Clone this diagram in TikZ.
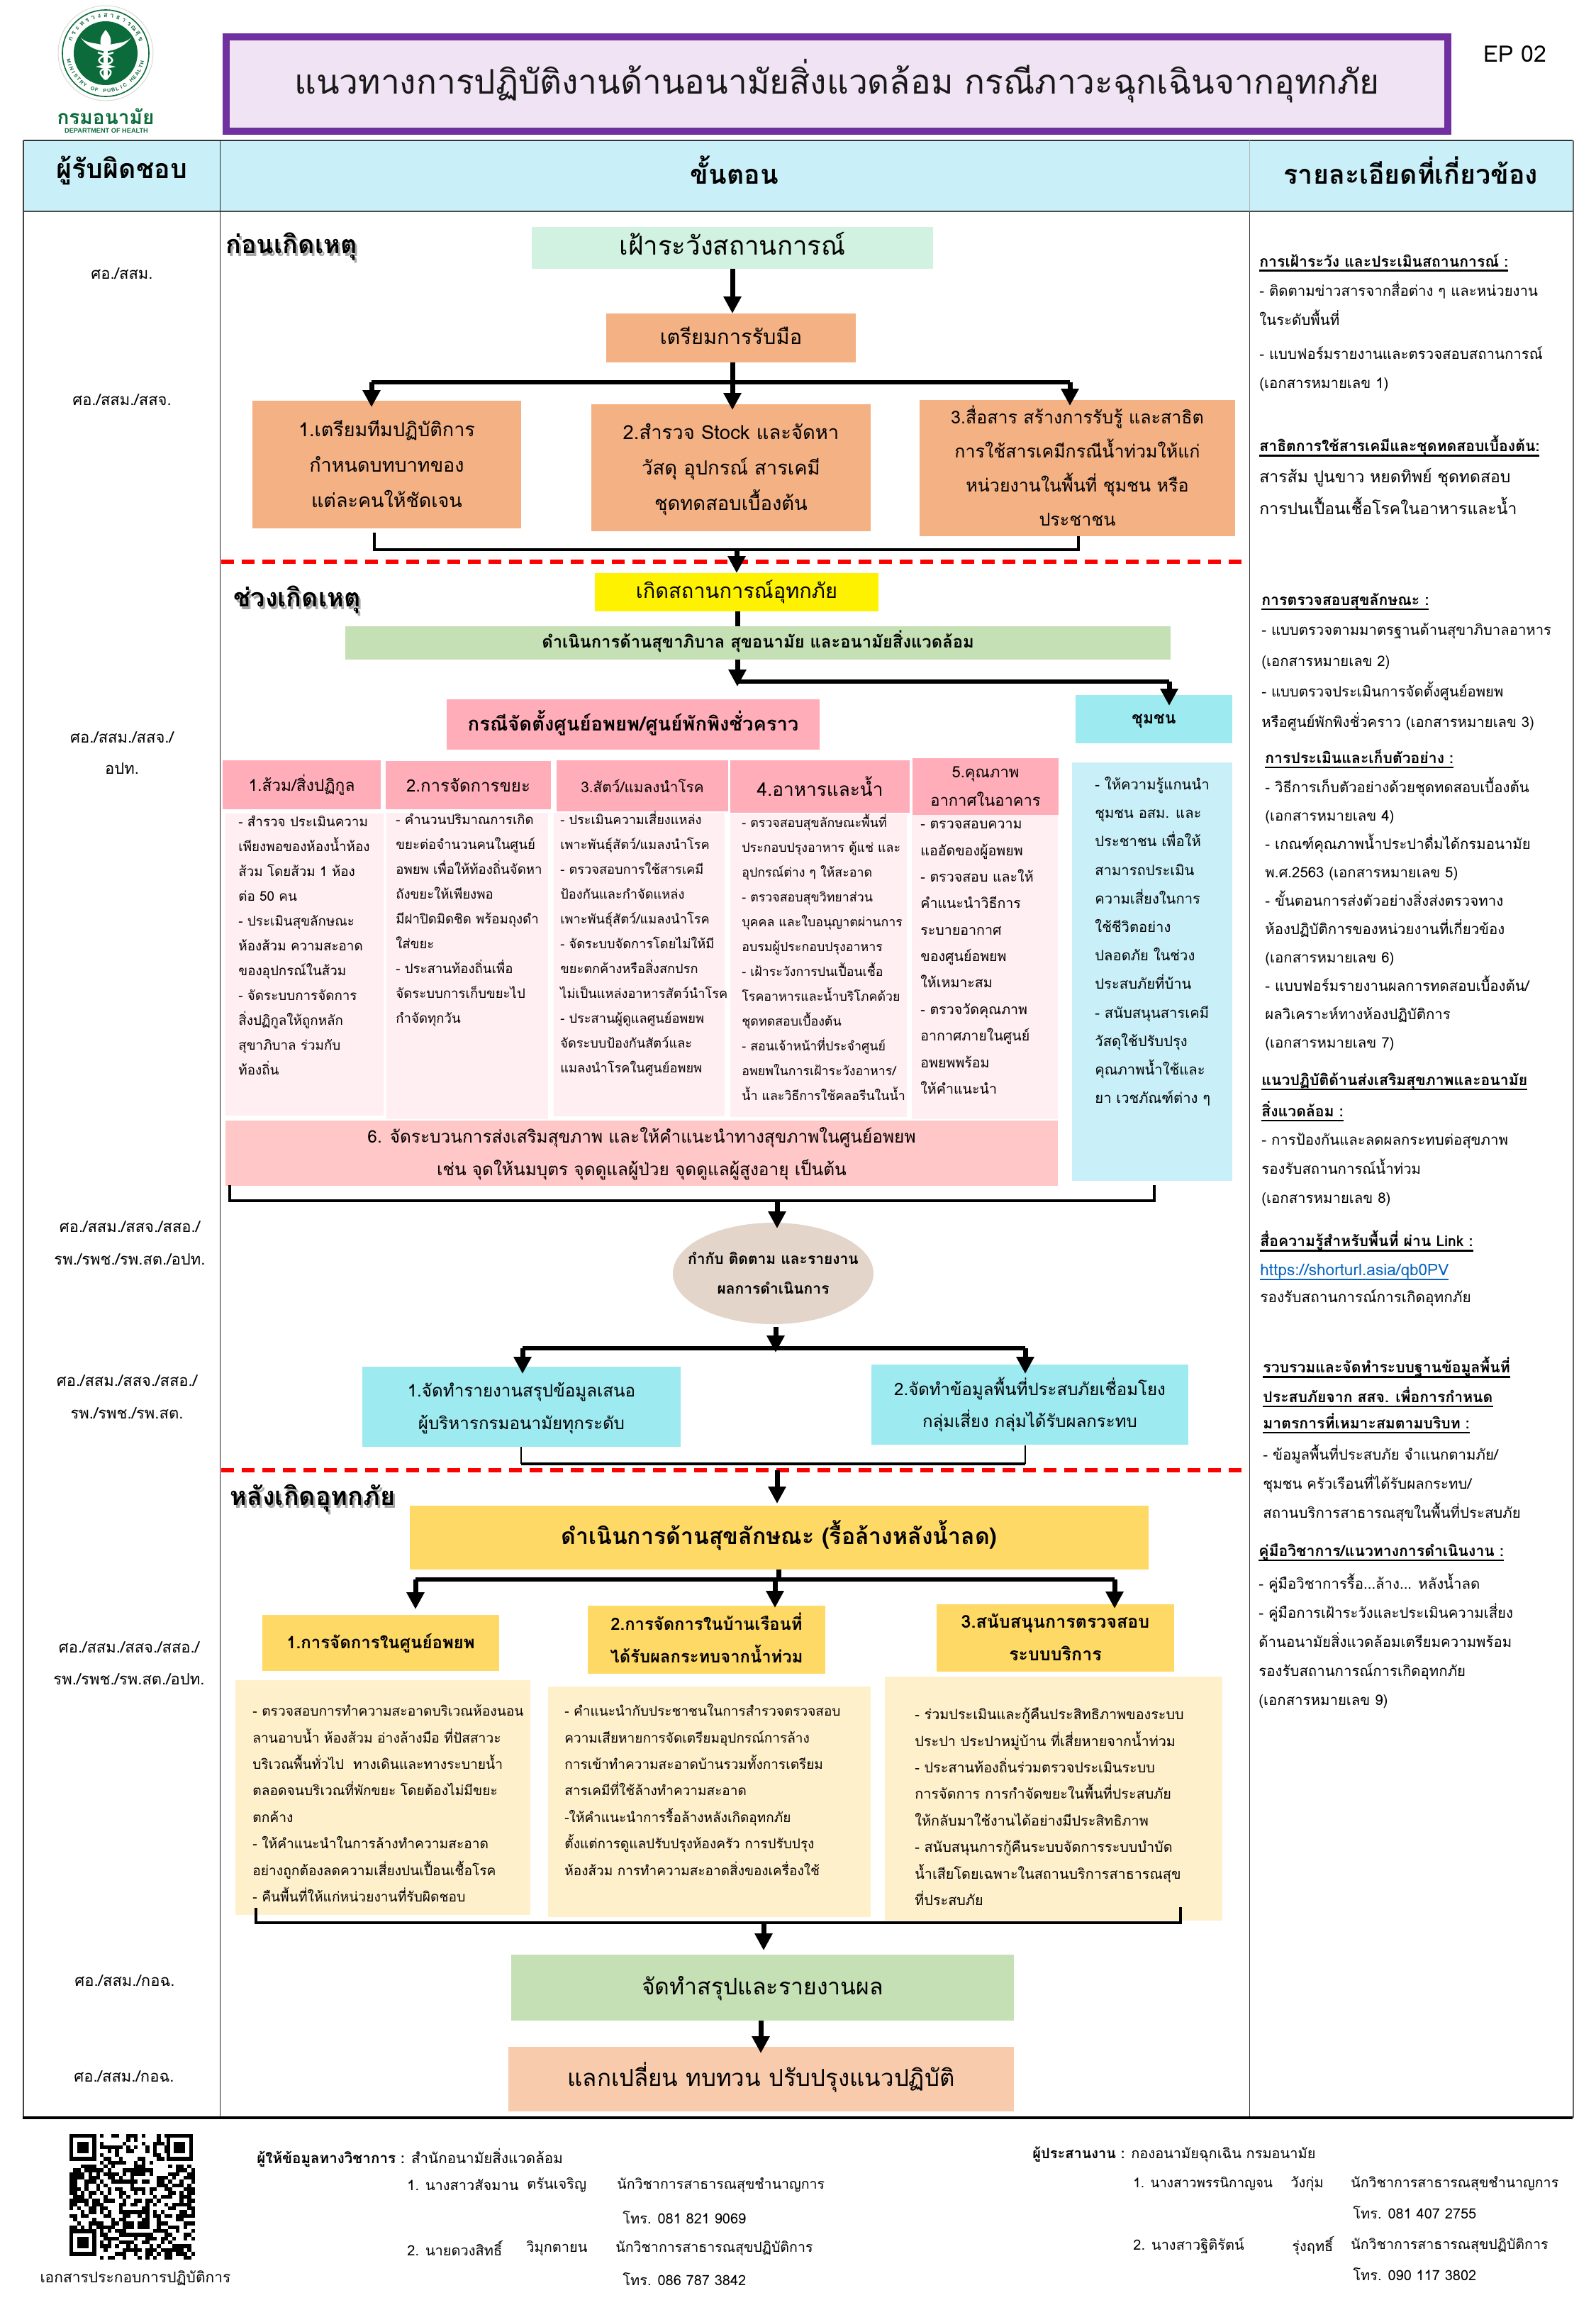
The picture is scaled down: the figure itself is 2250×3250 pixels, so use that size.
\documentclass[tikz,border=0pt]{standalone}
\usepackage{fontspec}
\usetikzlibrary{arrows.meta,calc,shapes.geometric}
\setmainfont[Script=Thai]{Loma}
\newfontfamily\latinsans{Liberation Sans}
\definecolor{hdr}{HTML}{C9F0F8}
\definecolor{ttl}{HTML}{F0E3F3}
\definecolor{pur}{HTML}{7030A0}
\definecolor{mint}{HTML}{D1F2E0}
\definecolor{org}{HTML}{F4B183}
\definecolor{grn}{HTML}{C5E0B4}
\definecolor{pnk}{HTML}{FFADB9}
\definecolor{pnkl}{HTML}{FFEEF2}
\definecolor{pnkm}{HTML}{FFC7C7}
\definecolor{cyn}{HTML}{9DEAF0}
\definecolor{bge}{HTML}{E3D5CA}
\definecolor{gld}{HTML}{FFD966}
\definecolor{gldl}{HTML}{FFF0CC}
\definecolor{pch}{HTML}{F8CBAD}
\definecolor{lnk}{HTML}{0563C1}
\definecolor{mop}{HTML}{0B6B3A}
\newcommand\fs[2]{\fontsize{#1}{#2}\selectfont}
\newcommand\myul[1]{\setbox0=\hbox{#1}\rlap{\vrule height -2.2pt depth 3.3pt width \wd0}\box0}
\newcommand\mybox[7]{\node[#6,inner sep=0pt,outer sep=0pt,align=center,minimum width={(#4-#2)*0.5pt},minimum height={(#5-#3)*0.5pt}] (#1) at ({(#2+#4)/2},{(#3+#5)/2}) {#7};}
\tikzset{
 stem/.style={line width=3.5pt},
 flow/.style={stem,-{Triangle[width=12pt,length=12pt]}},
 hbar/.style={line width=2.6pt},
 bracket/.style={line width=2.2pt,line join=miter},
 reddash/.style={line width=3pt,red,dash pattern=on 9pt off 5.5pt},
 tline/.style={inner sep=0pt,align=left,anchor=north west},
 bodyt/.style={tline,font=\fs{9.4}{17.5}},
 lowt/.style={tline,font=\fs{9.6}{18.7}},
 rhead/.style={inner sep=0pt,anchor=west,font=\fs{10.6}{21}\bfseries},
 rbody/.style={tline,font=\fs{10.2}{20.5}},
 lab/.style={inner sep=0pt,font=\fs{11}{14}},
 foot/.style={inner sep=0pt,anchor=west,font=\fs{10}{13}},
 sect/.style={inner sep=0pt,font=\fs{18}{22}\bfseries},
 colh/.style={inner sep=0pt,font=\fs{18.8}{24}\bfseries},
 ringt/.style={inner sep=0pt,text=mop},
}
\begin{document}
\begin{tikzpicture}[x=0.5pt,y=-0.5pt]
\useasboundingbox (0,0) rectangle (2250,3250);
% ---------- logo
\fill[white,draw=black!15,line width=0.5pt] (149,75) circle (33.5pt);
\draw[mop,line width=0.8pt] (149,75) circle (30.5pt);
\fill[mop] (149,75) circle (22.5pt);
\fill[white] (146,56) rectangle (152,112);
\fill[white] (149,42) .. controls (157,52) and (158,58) .. (155,66) -- (143,66) .. controls (140,58) and (141,52) .. (149,42) -- cycle;
\fill[white] (146,72) .. controls (130,70) and (120,62) .. (114,53) .. controls (122,62) and (136,60) .. (146,64) -- cycle;
\fill[white] (152,72) .. controls (168,70) and (178,62) .. (185,53) .. controls (176,62) and (162,60) .. (152,64) -- cycle;
\draw[white,line width=1.2pt] (138,74) .. controls (165,82) and (165,88) .. (140,94) .. controls (160,98) and (160,102) .. (149,112);
\draw[white,line width=1.2pt] (160,74) .. controls (133,82) and (133,88) .. (158,94) .. controls (138,98) and (138,102) .. (149,112);
\foreach \c [count=\n] in {ก,ร,ะ,ท,ร,ว,ง,ส,า,ธ,า,ร,ณ,สุ,ข}{
  \pgfmathsetmacro\a{158-(\n-1)*9.7}
  \node[ringt,font=\fs{4.6}{5}\bfseries,rotate=\a-90] (lgt\n) at ({149+53*cos(\a)},{75-53*sin(\a)}) {\c};
}
\foreach \c [count=\n] in {M,I,N,I,S,T,R,Y,{},O,F,{},P,U,B,L,I,C,{},H,E,A,L,T,H}{
  \pgfmathsetmacro\a{192+(\n-1)*6.4}
  \node[ringt,font=\latinsans\fs{3.6}{5}\bfseries,rotate=\a+90] (lgb\n) at ({149+53*cos(\a)},{75-53*sin(\a)}) {\c};
}
\node[inner sep=0pt,text=mop,font=\fs{14}{16}\bfseries] (dept) at (149,164) {กรมอนามัย};
\node[inner sep=0pt,text=mop,font=\latinsans\fs{4.6}{6}\bfseries] (depten) at (150,184) {DEPARTMENT OF HEALTH};
% ---------- title
\mybox{title}{319}{52}{2042}{185}{draw=pur,fill=ttl,line width=5pt,font=\fs{23.9}{36},text=black!90}{\strut แนวทางการปฏิบัติงานด้านอนามัยสิ่งแวดล้อม กรณีภาวะฉุกเฉินจากอุทกภัย}
\node[inner sep=0pt,font=\fs{16}{20}] (ep) at (2137,76) {EP 02};
% ---------- table
\fill[hdr] (33,198) rectangle (2218,298);
\draw[black!80,line width=0.8pt] (33,198) -- (2218,198);
\draw[black!70,line width=1pt] (33,298) -- (2218,298);
\draw[black!75,line width=0.7pt] (33,198) -- (33,2986);
\draw[black!85,line width=0.5pt] (310,198) -- (310,2986);
\draw[black!30,line width=0.5pt] (1762,198) -- (1762,298);
\draw[black!80,line width=0.5pt] (1762,298) -- (1762,2986);
\draw[black!60,line width=0.8pt] (2219,198) -- (2219,2986);
\draw[black,line width=2pt] (32,2986) -- (2218,2986);
\node[colh] (h1) at (172,240) {ผู้รับผิดชอบ};
\node[colh] (h2) at (1036,240) {ขั้นตอน};
\node[colh] (h3) at (1990,240) {รายละเอียดที่เกี่ยวข้อง};
% left labels
\node[lab] (l1) at (172,386) {ศอ./สสม.};
\node[lab] (l2) at (172,564) {ศอ./สสม./สสจ.};
\node[lab] (l3) at (172,1040) {ศอ./สสม./สสจ./};
\node[lab] (l3b) at (172,1084) {อปท.};
\node[lab] (l4) at (183,1730) {ศอ./สสม./สสจ./สสอ./};
\node[lab] (l4b) at (183,1776) {รพ./รพช./รพ.สต./อปท.};
\node[lab] (l5) at (179,1947) {ศอ./สสม./สสจ./สสอ./};
\node[lab] (l5b) at (179,1993) {รพ./รพช./รพ.สต.};
\node[lab] (l6) at (182,2323) {ศอ./สสม./สสจ./สสอ./};
\node[lab] (l6b) at (182,2368) {รพ./รพช./รพ.สต./อปท.};
\node[lab] (l7) at (176,2793) {ศอ./สสม./กอฉ.};
\node[lab] (l8) at (175,2928) {ศอ./สสม./กอฉ.};
% section titles
\node[sect,text=black!35] (s1s) at (414,351) {ก่อนเกิดเหตุ};
\node[sect] (s1) at (411,347) {ก่อนเกิดเหตุ};
\node[sect,text=black!35] (s2s) at (422,849) {ช่วงเกิดเหตุ};
\node[sect] (s2) at (419,845) {ช่วงเกิดเหตุ};
\node[sect,text=black!35] (s3s) at (444,2116) {หลังเกิดอุทกภัย};
\node[sect] (s3) at (441,2112) {หลังเกิดอุทกภัย};
% ---------- before
\mybox{watch}{750}{320}{1316}{379}{fill=mint,font=\fs{18.3}{24}}{\strut เฝ้าระวังสถานการณ์}
\mybox{prep}{855}{442}{1207}{511}{fill=org,font=\fs{14.5}{22}}{\raisebox{1.5pt}{\strut เตรียมการรับมือ}}
\mybox{p1}{356}{565}{735}{745}{fill=org,font=\fs{13.5}{25}}{\raisebox{1pt}{\strut 1.เตรียมทีมปฏิบัติการ}\\\raisebox{1pt}{\strut กำหนดบทบาทของ}\\\raisebox{1pt}{\strut แต่ละคนให้ชัดเจน}}
\mybox{p2}{834}{570}{1228}{749}{fill=org,font=\fs{13.7}{25}}{\strut 2.สำรวจ Stock และจัดหา\\\strut วัสดุ อุปกรณ์ สารเคมี\\\strut ชุดทดสอบเบื้องต้น}
\mybox{p3}{1297}{566}{1742}{754}{fill=org,font=\fs{12.5}{24}}{\strut 3.สื่อสาร สร้างการรับรู้ และสาธิต\\\strut การใช้สารเคมีกรณีน้ำท่วมให้แก่\\\strut หน่วยงานในพื้นที่ ชุมชน หรือ\\\strut ประชาชน}
\coordinate (j1) at (1033,539);
\coordinate (j1l) at (524,539);
\coordinate (j1r) at (1509,539);
\coordinate (a1) at (524,574);
\coordinate (a2) at (1033,578);
\coordinate (a3) at (1509,572);
\draw[flow] (watch.south -| j1) -- (j1 |- prep.north);
\draw[stem] (j1 |- prep.south) -- (j1);
\draw[hbar] (j1l) -- (j1r);
\draw[flow] (j1l) -- (a1);
\draw[flow] (j1) -- (a2);
\draw[flow] (j1r) -- (a3);
\coordinate (b1a) at (528,751);
\coordinate (b1b) at (528,775);
\coordinate (b1c) at (1521,775);
\coordinate (b1d) at (1521,756);
\coordinate (b1m) at (1039,775);
\draw[bracket] (b1a) -- (b1b) -- (b1c) -- (b1d);
\draw[reddash] (312,792) -- (1762,792);
% ---------- during
\mybox{event}{839}{808}{1239}{862}{fill=yellow,font=\fs{14.5}{18}}{เกิดสถานการณ์อุทกภัย}
\mybox{ops}{487}{883}{1651}{930}{fill=grn,font=\fs{11.9}{18}\bfseries}{\strut ดำเนินการด้านสุขาภิบาล สุขอนามัย และอนามัยสิ่งแวดล้อม}
\draw[flow] (b1m) -- (b1m |- event.north);
\coordinate (j2) at (1040,961);
\coordinate (j2r) at (1649,961);
\coordinate (a4) at (1040,968);
\coordinate (a5) at (1649,995);
\mybox{shelter}{630}{986}{1156}{1057}{fill=pnk,font=\fs{13.7}{20}\bfseries}{\strut กรณีจัดตั้งศูนย์อพยพ/ศูนย์พักพิงชั่วคราว}
\mybox{comm}{1517}{980}{1738}{1048}{fill=cyn,font=\fs{11.5}{17}\bfseries}{\strut ชุมชน}
\draw[stem] (event.south -| j2) -- (j2 |- ops.north);
\draw[flow] (j2 |- ops.south) -- (a4);
\draw[hbar] (j2) -- (j2r);
\draw[flow] (j2r) -- (a5);
% five headers
\mybox{c1}{314}{1072}{537}{1141}{fill=pnk,font=\fs{11.4}{16}}{1.ส้วม/สิ่งปฏิกูล}
\mybox{c2}{544}{1073}{777}{1141}{fill=pnk,font=\fs{12}{16}}{2.การจัดการขยะ}
\mybox{c3}{785}{1072}{1027}{1144}{fill=pnk,font=\fs{10.4}{16}}{3.สัตว์/แมลงนำโรค}
\mybox{c4}{1030}{1072}{1283}{1146}{fill=pnk,font=\fs{13.1}{18}}{4.อาหารและน้ำ}
\mybox{c5}{1287}{1070}{1493}{1147}{fill=pnk,font=\fs{11}{20}}{\strut 5.คุณภาพ\\\strut อากาศในอาคาร}
\mybox{d1}{318}{1147}{541}{1573}{fill=pnkl}{}
\mybox{d2}{545}{1146}{773}{1578}{fill=pnkl}{}
\mybox{d3}{781}{1146}{1022}{1574}{fill=pnkl}{}
\mybox{d4}{1030}{1148}{1279}{1575}{fill=pnkl}{}
\mybox{d5}{1286}{1149}{1492}{1578}{fill=pnkl}{}
\mybox{dc}{1512}{1075}{1738}{1665}{fill=hdr}{}
\node[bodyt] (d1t) at (336,1141) {\strut - สำรวจ ประเมินความ\\เพียงพอของห้องน้ำห้อง\\ส้วม โดยส้วม 1 ห้อง\\ต่อ 50 คน\\- ประเมินสุขลักษณะ\\ห้องส้วม ความสะอาด\\ของอุปกรณ์ในส้วม\\- จัดระบบการจัดการ\\สิ่งปฏิกูลให้ถูกหลัก\\สุขาภิบาล ร่วมกับ\\ท้องถิ่น};
\node[bodyt,font=\fs{9.3}{17.5}] (d2t) at (558,1138) {\strut - คำนวนปริมาณการเกิด\\ขยะต่อจำนวนคนในศูนย์\\อพยพ เพื่อให้ท้องถิ่นจัดหา\\ถังขยะให้เพียงพอ\\มีฝาปิดมิดชิด พร้อมถุงดำ\\ใส่ขยะ\\- ประสานท้องถิ่นเพื่อ\\จัดระบบการเก็บขยะไป\\กำจัดทุกวัน};
\node[bodyt,font=\fs{9.1}{17.5}] (d3t) at (790,1138) {\strut - ประเมินความเสี่ยงแหล่ง\\เพาะพันธุ์สัตว์/แมลงนำโรค\\- ตรวจสอบการใช้สารเคมี\\ป้องกันและกำจัดแหล่ง\\เพาะพันธุ์สัตว์/แมลงนำโรค\\- จัดระบบจัดการโดยไม่ให้มี\\ขยะตกค้างหรือสิ่งสกปรก\\ไม่เป็นแหล่งอาหารสัตว์นำโรค\\- ประสานผู้ดูแลศูนย์อพยพ\\จัดระบบป้องกันสัตว์และ\\แมลงนำโรคในศูนย์อพยพ};
\node[bodyt,font=\fs{8.9}{17.5}] (d4t) at (1046,1142) {\strut - ตรวจสอบสุขลักษณะพื้นที่\\ประกอบปรุงอาหาร ตู้แช่ และ\\อุปกรณ์ต่าง ๆ ให้สะอาด\\- ตรวจสอบสุขวิทยาส่วน\\บุคคล และใบอนุญาตผ่านการ\\อบรมผู้ประกอบปรุงอาหาร\\- เฝ้าระวังการปนเปื้อนเชื้อ\\โรคอาหารและน้ำบริโภคด้วย\\ชุดทดสอบเบื้องต้น\\- สอนเจ้าหน้าที่ประจำศูนย์\\อพยพในการเฝ้าระวังอาหาร/\\น้ำ และวิธีการใช้คลอรีนในน้ำ};
\node[bodyt,font=\fs{9.8}{18.7}] (d5t) at (1298,1142) {\strut - ตรวจสอบความ\\แออัดของผู้อพยพ\\- ตรวจสอบ และให้\\คำแนะนำวิธีการ\\ระบายอากาศ\\ของศูนย์อพยพ\\ให้เหมาะสม\\- ตรวจวัดคุณภาพ\\อากาศภายในศูนย์\\อพยพพร้อม\\ให้คำแนะนำ};
\node[bodyt,font=\fs{10.1}{20.1}] (dct) at (1544,1085) {\strut - ให้ความรู้แกนนำ\\ชุมชน อสม. และ\\ประชาชน เพื่อให้\\สามารถประเมิน\\ความเสี่ยงในการ\\ใช้ชีวิตอย่าง\\ปลอดภัย ในช่วง\\ประสบภัยที่บ้าน\\- สนับสนุนสารเคมี\\วัสดุใช้ปรับปรุง\\คุณภาพน้ำใช้และ\\ยา เวชภัณฑ์ต่าง ๆ};
\mybox{six}{318}{1580}{1492}{1671}{fill=pnkm,font=\fs{12.2}{23}}{\strut 6. จัดระบวนการส่งเสริมสุขภาพ และให้คำแนะนำทางสุขภาพในศูนย์อพยพ\\\strut เช่น จุดให้นมบุตร จุดดูแลผู้ป่วย จุดดูแลผู้สูงอายุ เป็นต้น}
\coordinate (b2a) at (324,1671);
\coordinate (b2b) at (324,1693);
\coordinate (b2c) at (1628,1693);
\coordinate (b2d) at (1628,1671);
\coordinate (b2m) at (1096,1693);
\draw[bracket] (b2a) -- (b2b) -- (b2c) -- (b2d);
\node[ellipse,fill=bge,inner sep=0pt,minimum width=141.5pt,minimum height=71.5pt] (mon) at (1090.5,1795.5) {};
\node[inner sep=0pt,align=center,font=\fs{10.5}{21}\bfseries] (mont) at (mon.center) {\strut กำกับ ติดตาม และรายงาน\\\strut ผลการดำเนินการ};
\coordinate (a6) at (1096,1732);
\draw[flow] (b2m) -- (a6);
\coordinate (j3) at (1094,1901);
\coordinate (j3l) at (737,1901);
\coordinate (j3r) at (1446,1901);
\coordinate (a7) at (737,1937);
\coordinate (a8) at (1446,1937);
\coordinate (j3s) at (1094,1871);
\coordinate (j3e) at (1094,1907);
\mybox{rep1}{511}{1927}{960}{2040}{fill=cyn,font=\fs{12.1}{23}}{\strut 1.จัดทำรายงานสรุปข้อมูลเสนอ\\\strut ผู้บริหารกรมอนามัยทุกระดับ}
\mybox{rep2}{1229}{1924}{1676}{2037}{fill=cyn,font=\fs{12}{22.5}}{\strut 2.จัดทำข้อมูลพื้นที่ประสบภัยเชื่อมโยง\\\strut กลุ่มเสี่ยง กลุ่มได้รับผลกระทบ}
\draw[flow] (j3s) -- (j3e);
\draw[hbar] (j3l) -- (j3r);
\draw[flow] (j3l) -- (a7);
\draw[flow] (j3r) -- (a8);
\coordinate (b3a) at (735,2040);
\coordinate (b3b) at (735,2064);
\coordinate (b3c) at (1446,2064);
\coordinate (b3d) at (1446,2038);
\draw[line width=1pt] (b3a) -- (b3b);
\draw[line width=1pt] (b3d) -- (b3c);
\draw[line width=2.4pt] (b3b) -- (b3c);
\draw[reddash] (312,2073) -- (1762,2073);
% ---------- after
\mybox{clean}{578}{2123}{1620}{2213}{fill=gld,font=\fs{16}{24}\bfseries}{\strut ดำเนินการด้านสุขลักษณะ (รื้อล้างหลังน้ำลด)}
\coordinate (a9s) at (1096,2073);
\coordinate (a9) at (1096,2120);
\draw[flow] (a9s) -- (a9);
\coordinate (j4) at (1098,2227);
\coordinate (j4l) at (586,2227);
\coordinate (j4m) at (1093,2227);
\coordinate (j4r) at (1572,2227);
\mybox{y1}{370}{2277}{704}{2356}{fill=gld,font=\fs{12}{16}\bfseries}{1.การจัดการในศูนย์อพยพ}
\mybox{y2}{829}{2264}{1164}{2360}{fill=gld,font=\fs{11.9}{23}\bfseries}{\strut 2.การจัดการในบ้านเรือนที่\\\strut ได้รับผลกระทบจากน้ำท่วม}
\mybox{y3}{1321}{2262}{1656}{2357}{fill=gld,font=\fs{12.5}{23}\bfseries}{\strut 3.สนับสนุนการตรวจสอบ\\\strut ระบบบริการ}
\coordinate (a10) at (586,2269);
\coordinate (a11) at (1093,2267);
\coordinate (a12) at (1572,2268);
\draw[stem] (clean.south -| j4) -- (j4);
\draw[hbar] (j4l) -- (j4r);
\draw[flow] (j4l) -- (a10);
\draw[flow] (j4m) -- (a11);
\draw[flow] (j4r) -- (a12);
\mybox{e1}{332}{2369}{748}{2700}{fill=gldl}{}
\mybox{e2}{773}{2378}{1228}{2703}{fill=gldl}{}
\mybox{e3}{1248}{2364}{1724}{2708}{fill=gldl}{}
\node[lowt] (e1t) at (356,2393) {\strut - ตรวจสอบการทำความสะอาดบริเวณห้องนอน\\ลานอาบน้ำ ห้องส้วม อ่างล้างมือ ที่ปัสสาวะ\\บริเวณพื้นทั่วไป~~ทางเดินและทางระบายน้ำ\\ตลอดจนบริเวณที่พักขยะ โดยต้องไม่มีขยะ\\ตกค้าง\\- ให้คำแนะนำในการล้างทำความสะอาด\\อย่างถูกต้องลดความเสี่ยงปนเปื้อนเชื้อโรค\\- คืนพื้นที่ให้แก่หน่วยงานที่รับผิดชอบ};
\node[lowt,font=\fs{9.5}{18.7}] (e2t) at (796,2393) {\strut - คำแนะนำกับประชาชนในการสำรวจตรวจสอบ\\ความเสียหายการจัดเตรียมอุปกรณ์การล้าง\\การเข้าทำความสะอาดบ้านรวมทั้งการเตรียม\\สารเคมีที่ใช้ล้างทำความสะอาด\\-ให้คำแนะนำการรื้อล้างหลังเกิดอุทกภัย\\ตั้งแต่การดูแลปรับปรุงห้องครัว การปรับปรุง\\ห้องส้วม การทำความสะอาดสิ่งของเครื่องใช้};
\node[lowt,font=\fs{9.9}{18.7}] (e3t) at (1290,2398) {\strut - ร่วมประเมินและกู้คืนประสิทธิภาพของระบบ\\ประปา ประปาหมู่บ้าน ที่เสี่ยหายจากน้ำท่วม\\- ประสานท้องถิ่นร่วมตรวจประเมินระบบ\\การจัดการ การกำจัดขยะในพื้นที่ประสบภัย\\ให้กลับมาใช้งานได้อย่างมีประสิทธิภาพ\\- สนับสนุนการกู้คืนระบบจัดการระบบบำบัด\\น้ำเสียโดยเฉพาะในสถานบริการสาธารณสุข\\ที่ประสบภัย};
\coordinate (b4a) at (361,2690);
\coordinate (b4b) at (361,2711);
\coordinate (b4c) at (1665,2711);
\coordinate (b4d) at (1665,2689);
\coordinate (b4m) at (1077,2711);
\draw[bracket] (b4a) -- (b4b) -- (b4c) -- (b4d);
\mybox{sum}{721}{2756}{1430}{2849}{fill=grn,font=\fs{16}{24}}{\strut จัดทำสรุปและรายงานผล}
\mybox{share}{717}{2886}{1430}{2977}{fill=pch,font=\fs{16.5}{25}}{\strut แลกเปลี่ยน ทบทวน ปรับปรุงแนวปฏิบัติ}
\coordinate (a13) at (1077,2750);
\coordinate (a14s) at (1073,2849);
\coordinate (a14) at (1073,2895);
\draw[flow] (b4m) -- (a13);
\draw[flow] (a14s) -- (a14);
% ---------- right column
\node[rhead] (r1) at (1776,370) {\myul{การเฝ้าระวัง และประเมินสถานการณ์ :}};
\node[rbody] (r1t) at (1776,388) {\strut - ติดตามข่าวสารจากสื่อต่าง ๆ และหน่วยงาน\\ในระดับพื้นที่};
\node[rbody] (r1u) at (1776,477) {\strut - แบบฟอร์มรายงานและตรวจสอบสถานการณ์\\(เอกสารหมายเลข 1)};
\node[rhead] (r2) at (1776,629) {\myul{สาธิตการใช้สารเคมีและชุดทดสอบเบื้องต้น:}};
\node[rbody,font=\fs{11.5}{22.5}] (r2t) at (1776,649) {\strut สารส้ม ปูนขาว หยดทิพย์ ชุดทดสอบ\\การปนเปื้อนเชื้อโรคในอาหารและน้ำ};
\node[rhead] (r3) at (1779,848) {\myul{การตรวจสอบสุขลักษณะ :}};
\node[rbody,font=\fs{10.15}{21.7}] (r3t) at (1779,865) {\strut - แบบตรวจตามมาตรฐานด้านสุขาภิบาลอาหาร\\(เอกสารหมายเลข 2)\\- แบบตรวจประเมินการจัดตั้งศูนย์อพยพ\\หรือศูนย์พักพิงชั่วคราว (เอกสารหมายเลข 3)};
\node[rhead] (r4) at (1784,1070) {\myul{การประเมินและเก็บตัวอย่าง :}};
\node[rbody,font=\fs{10.2}{20}] (r4t) at (1784,1089) {\strut - วิธีการเก็บตัวอย่างด้วยชุดทดสอบเบื้องต้น\\(เอกสารหมายเลข 4)\\- เกณฑ์คุณภาพน้ำประปาดื่มได้กรมอนามัย\\พ.ศ.2563 (เอกสารหมายเลข 5)\\- ขั้นตอนการส่งตัวอย่างสิ่งส่งตรวจทาง\\ห้องปฏิบัติการของหน่วยงานที่เกี่ยวข้อง\\(เอกสารหมายเลข 6)\\- แบบฟอร์มรายงานผลการทดสอบเบื้องต้น/\\ผลวิเคราะห์ทางห้องปฏิบัติการ\\(เอกสารหมายเลข 7)};
\node[rhead] (r5) at (1779,1525) {\myul{แนวปฏิบัติด้านส่งเสริมสุขภาพและอนามัย}};
\node[rhead] (r5b) at (1779,1567) {\myul{สิ่งแวดล้อม :}};
\node[rbody] (r5t) at (1779,1585) {\strut - การป้องกันและลดผลกระทบต่อสุขภาพ\\รองรับสถานการณ์น้ำท่วม\\(เอกสารหมายเลข 8)};
\node[rhead] (r6) at (1777,1750) {\myul{สื่อความรู้สำหรับพื้นที่ ผ่าน Link :}};
\node[inner sep=0pt,anchor=west,text=lnk,font=\fs{11.3}{14}] (r6l) at (1777,1794) {\myul{https://shorturl.asia/qb0PV}};
\node[inner sep=0pt,anchor=west,font=\fs{10.4}{14}] (r6t) at (1777,1830) {รองรับสถานการณ์การเกิดอุทกภัย};
\node[rhead] (r7) at (1781,1928) {\myul{รวบรวมและจัดทำระบบฐานข้อมูลพื้นที่}};
\node[rhead] (r7b) at (1781,1970) {\myul{ประสบภัยจาก สสจ. เพื่อการกำหนด}};
\node[rhead] (r7c) at (1781,2007) {\myul{มาตรการที่เหมาะสมตามบริบท :}};
\node[rbody] (r7t) at (1781,2029) {\strut - ข้อมูลพื้นที่ประสบภัย จำแนกตามภัย/\\ชุมชน ครัวเรือนที่ได้รับผลกระทบ/\\สถานบริการสาธารณสุขในพื้นที่ประสบภัย};
\node[rhead] (r8) at (1775,2189) {\myul{คู่มือวิชาการ/แนวทางการดำเนินงาน :}};
\node[rbody] (r8t) at (1775,2211) {\strut - คู่มือวิชาการรื้อ...ล้าง... หลังน้ำลด\\- คู่มือการเฝ้าระวังและประเมินความเสี่ยง\\ด้านอนามัยสิ่งแวดล้อมเตรียมความพร้อม\\รองรับสถานการณ์การเกิดอุทกภัย\\(เอกสารหมายเลข 9)};
% ---------- footer
\pgfmathsetseed{2024}
\foreach \i in {0,...,32}{\foreach \j in {0,...,32}{
  \pgfmathrandominteger{\qrv}{0}{1}
  \ifnum\qrv=1 \fill[black] ({98+\i*5.36},{3009+\j*5.36}) rectangle ++(5.36,5.36);\fi
}}
\foreach \qx/\qy in {98/3009,98/3143.2,234.5/3009}{
  \fill[white] (\qx,\qy) rectangle ++(42.9,42.9);
  \fill[black] (\qx,\qy) rectangle ++(37.5,37.5);
  \fill[white] ({\qx+5.36},{\qy+5.36}) rectangle ++(26.8,26.8);
  \fill[black] ({\qx+10.72},{\qy+10.72}) rectangle ++(16.1,16.1);
}
\node[inner sep=0pt,font=\fs{10.5}{14}] (qrcap) at (191,3212) {เอกสารประกอบการปฏิบัติการ};
\node[foot,font=\fs{10.3}{13}] (f1) at (362,3042) {\textbf{ผู้ให้ข้อมูลทางวิชาการ :} สำนักอนามัยสิ่งแวดล้อม};
\node[foot] (f1a) at (574,3081) {1. นางสาวสัจมาน};
\node[foot] (f1b) at (743,3081) {ตรันเจริญ};
\node[foot,font=\fs{9.8}{13}] (f1c) at (870,3081) {นักวิชาการสาธารณสุขชำนาญการ};
\node[foot] (f1d) at (878,3127) {โทร. 081 821 9069};
\node[foot] (f2a) at (574,3170) {2. นายดวงสิทธิ์};
\node[foot] (f2b) at (742,3170) {วิมุกตายน};
\node[foot,font=\fs{9.8}{13}] (f2c) at (868,3170) {นักวิชาการสาธารณสุขปฏิบัติการ};
\node[foot] (f2d) at (878,3214) {โทร. 086 787 3842};
\node[foot] (f3) at (1456,3038) {\textbf{ผู้ประสานงาน :} กองอนามัยฉุกเฉิน กรมอนามัย};
\node[foot,font=\fs{9.4}{13}] (f3a) at (1598,3079) {1. นางสาวพรรนิกาญจน};
\node[foot] (f3b) at (1820,3079) {วังกุ่ม};
\node[foot,font=\fs{9.8}{13}] (f3c) at (1905,3079) {นักวิชาการสาธารณสุขชำนาญการ};
\node[foot] (f3d) at (1908,3120) {โทร. 081 407 2755};
\node[foot] (f4a) at (1598,3166) {2. นางสาวฐิติรัตน์};
\node[foot] (f4b) at (1822,3166) {รุ่งฤทธิ์};
\node[foot,font=\fs{9.8}{13}] (f4c) at (1905,3166) {นักวิชาการสาธารณสุขปฏิบัติการ};
\node[foot] (f4d) at (1908,3207) {โทร. 090 117 3802};
\end{tikzpicture}
\end{document}
